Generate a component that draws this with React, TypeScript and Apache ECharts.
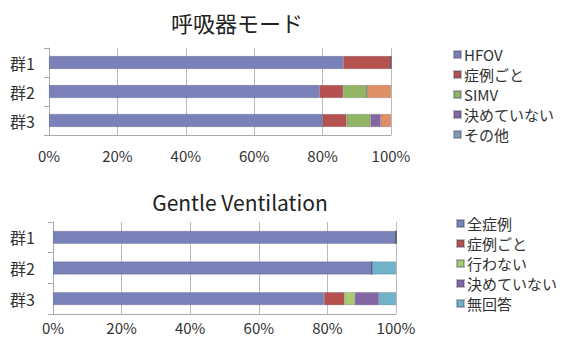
import React, { useEffect, useRef } from "react";
import * as echarts from "echarts";

const groups = ["群1", "群2", "群3"];
const xTicks = [0, 20, 40, 60, 80, 100];

const topTitle = "呼吸器モード";
const topSeriesNames = ["HFOV", "症例ごと", "SIMV", "決めていない", "その他"];
const topHFOV = [86, 79, 80];
const topCase = [14, 7, 7];
const topSIMV = [0, 7, 7];
const topUndecided = [0, 0, 3];
const topOther = [0, 7, 3];

const botTitle = "Gentle Ventilation";
const botSeriesNames = ["全症例", "症例ごと", "行わない", "決めていない", "無回答"];
const botAll = [100, 93, 79];
const botCase = [0, 0, 6];
const botNone = [0, 0, 3];
const botUndecided = [0, 0, 7];
const botNoAnswer = [0, 7, 5];

const topColors = ["#7a80b8", "#b5524f", "#92b564", "#8466a3", "#de8f63"];
const topLegendColors = ["#7a80b8", "#b5524f", "#92b564", "#8466a3", "#7e9db8"];
const botColors = ["#7a80b8", "#b5524f", "#a8cc6e", "#8466a3", "#6fb3c8"];

const FONT = "'Noto Sans CJK JP', 'Noto Sans', sans-serif";

export default function App() {
  const ref = useRef<HTMLDivElement>(null);
  useEffect(() => {
    if (!ref.current) return;
    const chart = echarts.init(ref.current, null, { renderer: "svg" });
    const topData = [topHFOV, topCase, topSIMV, topUndecided, topOther];
    const botData = [botAll, botCase, botNone, botUndecided, botNoAnswer];
    const mkSeries = (names: string[], data: number[][], colors: string[], idx: number, stack: string) =>
      names.map((n, i) => ({
        name: n,
        type: "bar",
        stack,
        xAxisIndex: idx,
        yAxisIndex: idx,
        barWidth: 13,
        data: data[i],
        itemStyle: { color: colors[i], borderColor: "rgba(60,60,90,0.35)", borderWidth: 0.6 },
        emphasis: { disabled: true },
      }));
    const xAxisBase = (gridIndex: number, margin: number) => ({
      type: "value",
      gridIndex,
      min: xTicks[0],
      max: xTicks[xTicks.length - 1],
      interval: 20,
      axisLabel: { formatter: "{value}%", fontSize: 15, color: "#333", fontFamily: FONT, margin },
      axisLine: { show: true, lineStyle: { color: "#aaa" } },
      axisTick: { show: false },
      splitLine: { show: true, lineStyle: { color: "#bbb" } },
    });
    const yAxisBase = (gridIndex: number, margin: number) => ({
      type: "category",
      gridIndex,
      data: groups,
      inverse: true,
      axisLabel: { fontSize: 16, color: "#333", fontFamily: FONT, margin },
      axisLine: { show: true, lineStyle: { color: "#aaa" } },
      axisTick: { show: true, lineStyle: { color: "#aaa" } },
    });
    chart.setOption({
      animation: false,
      backgroundColor: "#fff",
      title: [
        { text: topTitle, left: 232, top: 6, textAlign: "center", textStyle: { fontSize: 22, fontWeight: "normal", color: "#222", fontFamily: FONT } },
        { text: botTitle, left: 235, top: 186, textAlign: "center", textStyle: { fontSize: 21, fontWeight: "normal", color: "#222", fontFamily: FONT } },
      ],
      legend: [
        {
          orient: "vertical",
          left: 448,
          top: 42,
          itemWidth: 7,
          itemHeight: 7,
          itemGap: 5,
          icon: "rect",
          textStyle: { fontSize: 15, color: "#333", fontFamily: FONT, padding: [0, 0, 0, -2] },
          data: topSeriesNames.map((n, i) => ({ name: n, itemStyle: { color: topLegendColors[i] } })),
        },
        {
          orient: "vertical",
          left: 451,
          top: 211,
          itemWidth: 7,
          itemHeight: 7,
          itemGap: 5,
          icon: "rect",
          textStyle: { fontSize: 15, color: "#333", fontFamily: FONT, padding: [0, 0, 0, -2] },
          data: botSeriesNames.map((n, i) => ({ name: n, itemStyle: { color: botColors[i] } })),
        },
      ],
      grid: [
        { left: 49, top: 48, width: 342, height: 87 },
        { left: 53, top: 222, width: 343, height: 92 },
      ],
      xAxis: [xAxisBase(0, 13), xAxisBase(1, 6)],
      yAxis: [yAxisBase(0, 14), yAxisBase(1, 18)],
      series: [
        ...mkSeries(topSeriesNames, topData, topColors, 0, "top"),
        ...mkSeries(botSeriesNames, botData, botColors, 1, "bot"),
      ],
    });
    return () => chart.dispose();
  }, []);
  return <div ref={ref} style={{ width: 564, height: 344, position: "absolute", left: 0, top: 0 }} />;
}
